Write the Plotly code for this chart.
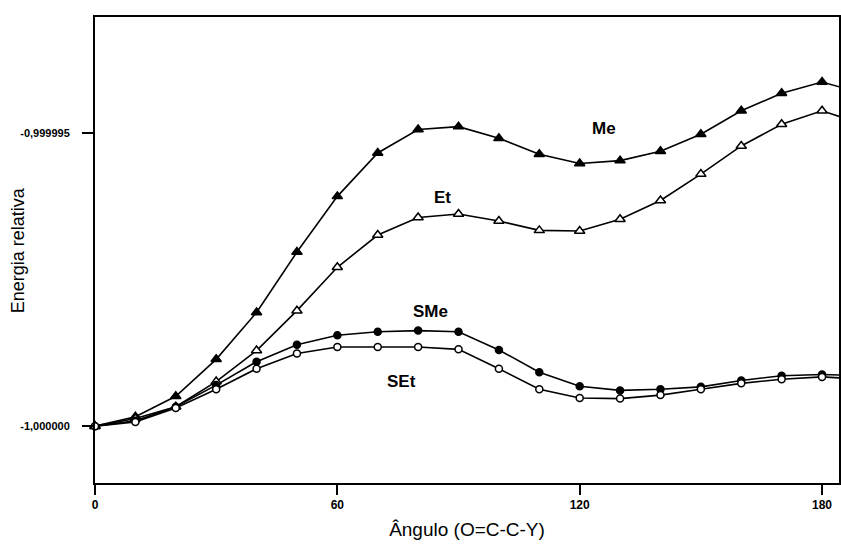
import plotly.graph_objects as go

# Dihedral angle O=C-C-Y (degrees); last point (190) lies beyond the visible axis
angles = [0, 10, 20, 30, 40, 50, 60, 70, 80, 90, 100, 110, 120, 130, 140, 150, 160, 170, 180, 190]

# Relative energies
me = [-1.00000000, -0.99999984, -0.99999949, -0.99999886, -0.99999806, -0.99999703, -0.99999608,
      -0.99999534, -0.99999494, -0.99999489, -0.99999509, -0.99999536, -0.99999552, -0.99999547,
      -0.99999531, -0.99999502, -0.99999462, -0.99999432, -0.99999413, -0.99999432]
et = [-1.00000000, -0.99999987, -0.99999967, -0.99999924, -0.99999871, -0.99999803, -0.99999729,
      -0.99999674, -0.99999644, -0.99999638, -0.99999650, -0.99999666, -0.99999667, -0.99999647,
      -0.99999615, -0.99999570, -0.99999522, -0.99999485, -0.99999462, -0.99999485]
sme = [-1.00000000, -0.99999991, -0.99999967, -0.99999930, -0.99999890, -0.99999861, -0.99999845,
       -0.99999839, -0.99999837, -0.99999839, -0.99999870, -0.99999908, -0.99999932, -0.99999939,
       -0.99999937, -0.99999933, -0.99999922, -0.99999914, -0.99999912, -0.99999914]
set_ = [-1.00000000, -0.99999993, -0.99999969, -0.99999937, -0.99999902, -0.99999876, -0.99999865,
        -0.99999865, -0.99999865, -0.99999869, -0.99999902, -0.99999937, -0.99999952, -0.99999953,
        -0.99999947, -0.99999937, -0.99999927, -0.99999920, -0.99999916, -0.99999920]

x_tickvals = [0, 60, 120, 180]
x_ticktext = ["0", "60", "120", "180"]
y_tickvals = [-1.000000, -0.999995]
y_ticktext = ["-1,000000", "-0,999995"]

series_names = ["Me", "Et", "SMe", "SEt"]
label_x = [126, 86, 83, 76]
label_y = [-0.99999492, -0.99999610, -0.99999805, -0.99999924]

styles = {
    "Me": dict(symbol="triangle-up", color="black", size=9),
    "Et": dict(symbol="triangle-up", color="white", size=9),
    "SMe": dict(symbol="circle", color="black", size=7),
    "SEt": dict(symbol="circle", color="white", size=7),
}
data = {"Me": me, "Et": et, "SMe": sme, "SEt": set_}

fig = go.Figure()
n_vis = len([a for a in angles if a <= 180])
for name in series_names:
    ys = data[name]
    fig.add_trace(go.Scatter(x=angles, y=ys, mode="lines",
                             line=dict(color="black", width=1.6),
                             showlegend=False, hoverinfo="skip"))
for name in series_names:
    ys = data[name]
    st = styles[name]
    fig.add_trace(go.Scatter(x=angles[:n_vis], y=ys[:n_vis], mode="markers",
                             marker=dict(symbol=st["symbol"], size=st["size"], color=st["color"],
                                         line=dict(color="black", width=1.5)),
                             cliponaxis=False, name=name, showlegend=False))

for name, lx, ly in zip(series_names, label_x, label_y):
    fig.add_annotation(x=lx, y=ly, text=f"<b>{name}</b>", showarrow=False,
                       font=dict(family="Liberation Sans, Arial", size=17, color="black"))

# y-axis title placed as a rotated annotation
fig.add_annotation(xref="paper", yref="paper", x=-0.103, y=0.5, text="Energia relativa",
                   textangle=-90, showarrow=False, xanchor="center", yanchor="middle",
                   font=dict(family="Liberation Sans, Arial", size=18, color="black"))

fig.update_layout(
    width=841, height=548,
    margin=dict(l=95, r=2, t=17, b=65),
    paper_bgcolor="white", plot_bgcolor="white",
    font=dict(family="Liberation Sans, Arial", color="black"),
)
fig.update_xaxes(
    automargin=False,
    range=[0, 184.2], tickvals=x_tickvals, ticktext=x_ticktext,
    ticks="outside", ticklen=10, tickwidth=2, tickcolor="black",
    showline=True, linewidth=2, linecolor="black", mirror=True,
    showgrid=False, zeroline=False,
    tickfont=dict(family="Liberation Sans Narrow, Liberation Sans, Arial", size=12, weight="bold"),
    title=dict(text="Ângulo (O=C-C-Y)", font=dict(family="Liberation Sans, Arial", size=19), standoff=11),
)
fig.update_yaxes(
    automargin=False,
    range=[-1.00000097, -0.99999302], tickvals=y_tickvals, ticktext=y_ticktext,
    ticks="outside", ticklen=11, tickwidth=2, tickcolor="black",
    showline=True, linewidth=2, linecolor="black", mirror=True,
    showgrid=False, zeroline=False, ticklabelstandoff=10,
    tickfont=dict(family="Liberation Sans Narrow, Liberation Sans, Arial", size=11, weight="bold"),
)

fig.write_html("out.html", config={"displayModeBar": False},
               post_script="document.body.style.margin='0';document.body.style.overflow='hidden';")
